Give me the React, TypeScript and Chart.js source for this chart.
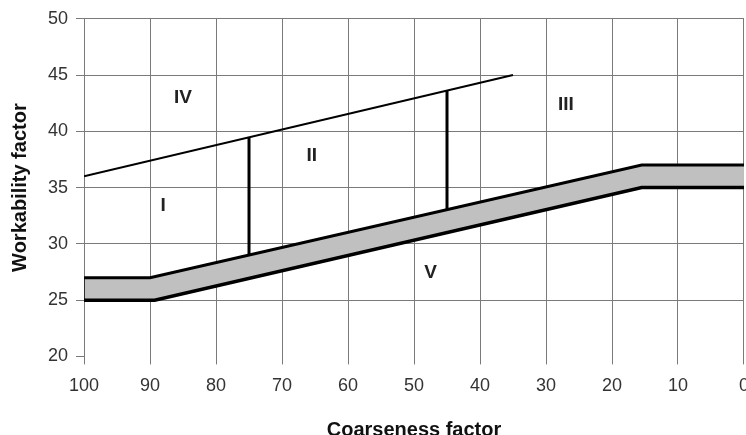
import { useEffect, useRef } from "react";
import { Chart, registerables } from "chart.js";

Chart.register(...registerables);

const xTickValues = [100, 90, 80, 70, 60, 50, 40, 30, 20, 10, 0];
const yTickValues = [20, 25, 30, 35, 40, 45, 50];

const bandUpper = [
  { x: 100, y: 27 },
  { x: 90, y: 27 },
  { x: 15.5, y: 37 },
  { x: 0, y: 37 },
];
const bandLower = [
  { x: 100, y: 25 },
  { x: 89.3, y: 25 },
  { x: 15.5, y: 35 },
  { x: 0, y: 35 },
];
const bandLeftEdge = [
  { x: 100, y: 25 },
  { x: 100, y: 27 },
];
const boundaryLine = [
  { x: 100, y: 36 },
  { x: 35, y: 45 },
];
const divider1 = [
  { x: 75, y: 29.0 },
  { x: 75, y: 39.5 },
];
const divider2 = [
  { x: 45, y: 33.1 },
  { x: 45, y: 43.6 },
];

const zoneNames = ["IV", "I", "II", "III", "V"];
const zoneX = [85, 88, 65.5, 27, 47.5];
const zoneY = [43, 33.4, 37.8, 42.4, 27.4];

const FONT = "'Liberation Sans', Arial, sans-serif";

const zoneLabelPlugin = {
  id: "zoneLabels",
  afterDatasetsDraw(chart: any) {
    const { ctx, scales } = chart;
    ctx.save();
    ctx.font = `bold 19px ${FONT}`;
    ctx.fillStyle = "#222";
    ctx.textAlign = "center";
    ctx.textBaseline = "middle";
    zoneNames.forEach((name, i) => {
      ctx.fillText(name, scales.x.getPixelForValue(zoneX[i]), scales.y.getPixelForValue(zoneY[i]));
    });
    ctx.restore();
  },
};

export default function App() {
  const ref = useRef<HTMLCanvasElement>(null);
  useEffect(() => {
    if (!ref.current) return;
    const lineDs = (data: any[], width: number, extra: any = {}) => ({
      data,
      borderColor: "#000",
      borderWidth: width,
      pointRadius: 0,
      showLine: true,
      tension: 0,
      fill: false,
      ...extra,
    });
    const chart = new Chart(ref.current, {
      type: "scatter",
      data: {
        datasets: [
          lineDs(bandUpper, 3, { fill: "+1", backgroundColor: "#c0c0c0" }),
          lineDs(bandLower, 3.5),
          lineDs(bandLeftEdge, 1.5),
          lineDs(boundaryLine, 2),
          lineDs(divider1, 3),
          lineDs(divider2, 3),
        ] as any,
      },
      options: {
        animation: false,
        responsive: true,
        maintainAspectRatio: false,
        layout: { padding: { top: 10, left: 8, right: 0, bottom: 0 } },
        plugins: {
          legend: { display: false },
          tooltip: { enabled: false },
          filler: { drawTime: "beforeDatasetsDraw" },
        } as any,
        scales: {
          x: {
            type: "linear",
            reverse: true,
            min: 0,
            max: 100,
            afterBuildTicks: (s: any) => {
              s.ticks = xTickValues.map((v) => ({ value: v }));
            },
            ticks: {
              font: { family: FONT, size: 18 },
              color: "#333",
              padding: 11,
            },
            grid: {
              color: "#7a7a7a",
              lineWidth: 1,
              tickLength: 8,
              tickColor: "#7a7a7a",
            },
            border: { display: false },
            title: {
              display: true,
              text: "Coarseness factor",
              font: { family: FONT, size: 20, weight: "bold" },
              color: "#111",
              padding: { top: 10, bottom: 0 },
            },
          },
          y: {
            min: 20,
            max: 50,
            afterBuildTicks: (s: any) => {
              s.ticks = yTickValues.map((v) => ({ value: v }));
            },
            ticks: {
              font: { family: FONT, size: 18 },
              color: "#333",
              padding: 8,
            },
            grid: {
              color: (c: any) => (c.tick && c.tick.value === 20 ? "rgba(0,0,0,0)" : "#7a7a7a"),
              lineWidth: 1,
              tickLength: 8,
              tickColor: "#7a7a7a",
            },
            border: { display: false },
            title: {
              display: true,
              text: "Workability factor",
              font: { family: FONT, size: 20, weight: "bold" },
              color: "#111",
              padding: { top: 0, bottom: 8 },
            },
          },
        },
      },
      plugins: [zoneLabelPlugin],
    });
    return () => chart.destroy();
  }, []);
  return (
    <div style={{ position: "fixed", left: 0, top: 0, width: 746, height: 435, overflow: "hidden", background: "#fff" }}>
      <div style={{ position: "absolute", left: 0, top: 0, width: 760, height: 442 }}>
        <canvas ref={ref} />
      </div>
    </div>
  );
}
